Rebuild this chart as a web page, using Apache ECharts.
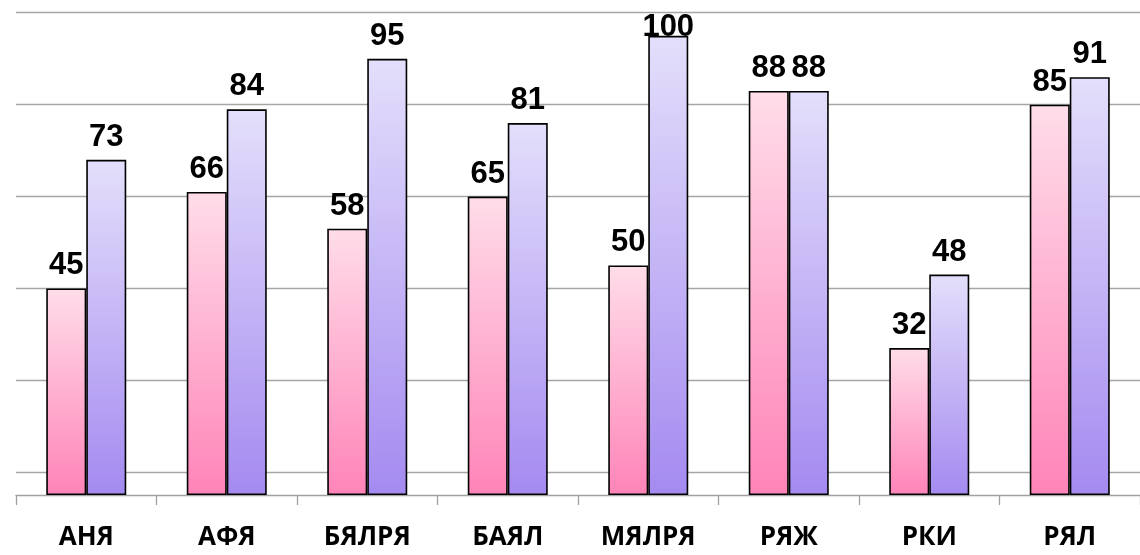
<!DOCTYPE html>
<html>
<head>
<meta charset="utf-8">
<script src="https://cdn.jsdelivr.net/npm/echarts@6/dist/echarts.min.js"></script>
<style>html,body{margin:0;padding:0;background:#fff;}#c{width:1140px;height:555px;}</style>
</head>
<body>
<div id="c"></div>
<script>
const categories = ['АНЯ', 'АФЯ', 'БЯЛРЯ', 'БАЯЛ', 'МЯЛРЯ', 'РЯЖ', 'РКИ', 'РЯЛ'];
const seriesA = [45, 66, 58, 65, 50, 88, 32, 85];
const seriesB = [73, 84, 95, 81, 100, 88, 48, 91];

const chart = echarts.init(document.getElementById('c'));
const grad = (top, bottom) => new echarts.graphic.LinearGradient(0, 0, 0, 1, [
  {offset: 0, color: top}, {offset: 1, color: bottom}
]);
const yMax = 105.2;
const labelBase = {
  show: true, position: 'top', distance: 7,
  fontFamily: '"Liberation Sans", Arial, sans-serif', fontWeight: 'bold', fontSize: 31, color: '#000'
};
const mk = arr => arr.map(v => (v >= 100 ? {value: v, label: {offset: [0, 14]}} : v));

chart.setOption({
  animation: false,
  grid: [
    {left: 16, right: 0, top: 12, bottom: 60},
    {left: 16, right: 0, top: 12, bottom: 82.3}
  ],
  xAxis: [
    {
      type: 'category', data: categories, gridIndex: 0,
      axisLine: {show: true, lineStyle: {color: '#a0a0a0', width: 1.3}},
      axisTick: {show: true, length: 10, lineStyle: {color: '#a0a0a0', width: 1.3}},
      axisLabel: {margin: 30, fontFamily: '"Open Sans", sans-serif', fontWeight: 'bold', fontSize: 26, color: '#000'}
    },
    {type: 'category', data: categories, gridIndex: 1, show: false}
  ],
  yAxis: [
    {type: 'value', min: 0, max: yMax, gridIndex: 0, show: false, splitLine: {show: false}},
    {
      type: 'value', min: 0, max: 100, interval: 20, gridIndex: 1,
      axisLine: {show: false}, axisTick: {show: false}, axisLabel: {show: false},
      splitLine: {show: true, lineStyle: {color: '#a6a6a6', width: 1.3}}
    }
  ],
  series: [
    {
      type: 'bar', xAxisIndex: 0, yAxisIndex: 0, data: mk(seriesA), barWidth: 40, barGap: '0%', z: 3,
      itemStyle: {color: grad('#ffdde9', '#ff84b8'), borderColor: '#000', borderWidth: 1.6},
      label: labelBase
    },
    {
      type: 'bar', xAxisIndex: 0, yAxisIndex: 0, data: mk(seriesB), barWidth: 40, barGap: '0%', z: 3,
      itemStyle: {color: grad('#e4dffb', '#a48af0'), borderColor: '#000', borderWidth: 1.6},
      label: labelBase
    }
  ]
});
</script>
</body>
</html>
